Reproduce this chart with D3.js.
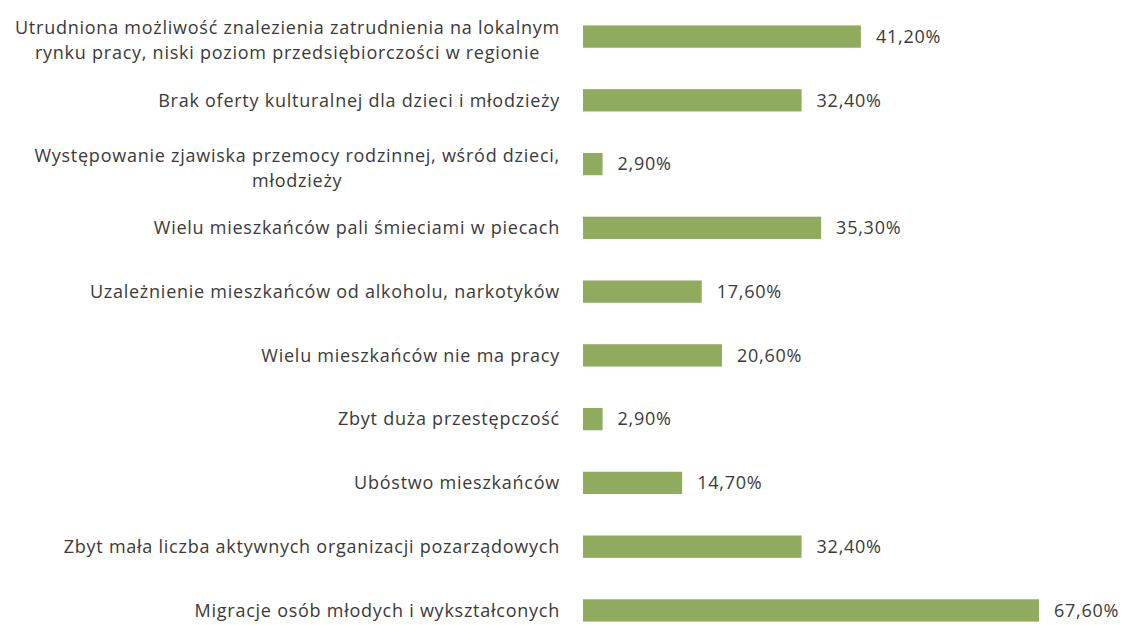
<!DOCTYPE html>
<html><head><meta charset="utf-8">
<script src="https://cdn.jsdelivr.net/npm/d3@7"></script>
<style>html,body{margin:0;padding:0;background:#fff;}svg{display:block;}</style>
</head><body>
<svg id="chart" width="1128" height="625"></svg>
<script>
const categories = [
  "Utrudniona możliwość znalezienia zatrudnienia na lokalnym\nrynku pracy, niski poziom przedsiębiorczości w regionie",
  "Brak oferty kulturalnej dla dzieci i młodzieży",
  "Występowanie zjawiska przemocy rodzinnej, wśród dzieci,\nmłodzieży",
  "Wielu mieszkańców pali śmieciami w piecach",
  "Uzależnienie mieszkańców od alkoholu, narkotyków",
  "Wielu mieszkańców nie ma pracy",
  "Zbyt duża przestępczość",
  "Ubóstwo mieszkańców",
  "Zbyt mała liczba aktywnych organizacji pozarządowych",
  "Migracje osób młodych i wykształconych"
];
const values = [41.2, 32.4, 2.9, 35.3, 17.6, 20.6, 2.9, 14.7, 32.4, 67.6];
const valueLabels = ["41,20%","32,40%","2,90%","35,30%","17,60%","20,60%","2,90%","14,70%","32,40%","67,60%"];

const svg = d3.select("#chart");
const x0 = 583;
const x = d3.scaleLinear().domain([0, 67.6]).range([x0, x0 + 456]);
const y = d3.scaleBand().domain(categories).range([5, 642]).paddingInner(0.65).paddingOuter(0.32);

const font = "'Open Sans', sans-serif";
const textColor = "#3a3a3a";
const fs = 18, ls = 0.75;

svg.selectAll("rect.bar").data(values).join("rect")
  .attr("class","bar")
  .attr("x", x(0))
  .attr("y", (d,i) => y(categories[i]))
  .attr("width", d => x(d) - x(0))
  .attr("height", y.bandwidth())
  .attr("fill", "#8fac5e");

svg.selectAll("text.val").data(values).join("text")
  .attr("class","val")
  .attr("x", d => x(d) + 15)
  .attr("y", (d,i) => y(categories[i]) + y.bandwidth()/2)
  .attr("dy", "0.35em")
  .attr("font-family", font)
  .attr("font-size", fs)
  .attr("letter-spacing", ls)
  .attr("fill", textColor)
  .text((d,i) => valueLabels[i]);

const labelRight = 560;
const lineH = 25;
categories.forEach((c) => {
  const lines = c.split("\n");
  const cy = y(c) + y.bandwidth()/2;
  const g = svg.append("g");
  const texts = lines.map((ln, j) => g.append("text")
    .attr("y", cy + (j - (lines.length-1)/2) * lineH + (lines.length>1 ? 4 : 0))
    .attr("dy", "0.35em")
    .attr("font-family", font)
    .attr("font-size", fs)
    .attr("letter-spacing", ls)
    .attr("fill", textColor)
    .text(ln));
  const widths = texts.map(t => t.node().getComputedTextLength());
  const maxW = d3.max(widths);
  const center = labelRight - maxW/2;
  texts.forEach(t => t.attr("x", center).attr("text-anchor","middle"));
});
</script>
</body></html>
